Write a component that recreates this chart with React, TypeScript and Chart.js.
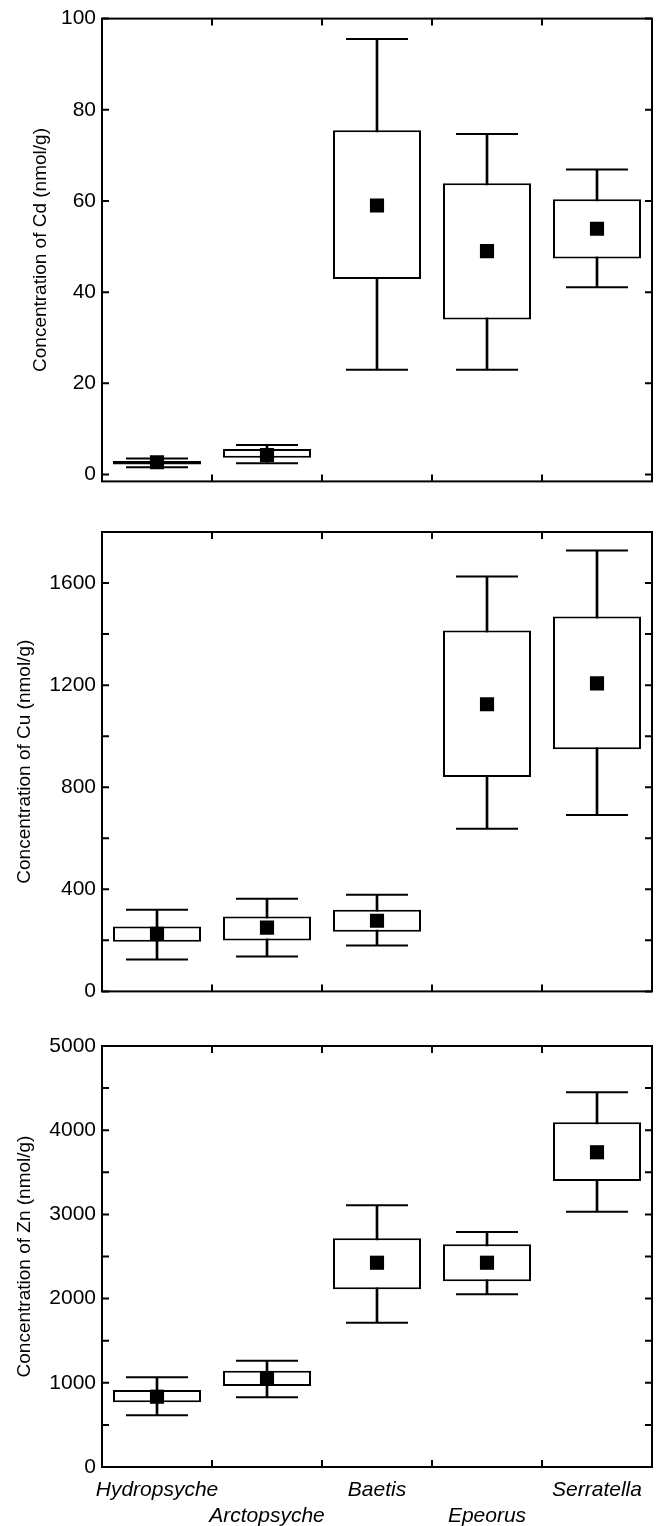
import React, { useEffect, useRef } from 'react';
import { Chart, registerables } from 'chart.js';

Chart.register(...registerables);

// ---------- data ----------
const categories = ['Hydropsyche', 'Arctopsyche', 'Baetis', 'Epeorus', 'Serratella'];

// Cd (nmol/g)
const cdMin = [1.6, 2.5, 23, 23, 41.1];
const cdQ1 = [2.2, 3.7, 42.9, 34, 47.4];
const cdQ3 = [3.0, 5.6, 75.5, 63.9, 60.4];
const cdMax = [3.5, 6.5, 95.5, 74.7, 66.9];
const cdMean = [2.7, 4.3, 59, 49, 53.9];
const cdTicks = [0, 20, 40, 60, 80, 100];
const cdMinor: number[] = [];

// Cu (nmol/g)
const cuMin = [125, 137, 180, 637, 691];
const cuQ1 = [195, 199, 234, 840, 949];
const cuQ3 = [254, 293, 320, 1414, 1469];
const cuMax = [320, 363, 379, 1626, 1728];
const cuMean = [226, 250, 277, 1125, 1207];
const cuTicks = [0, 400, 800, 1200, 1600];
const cuMinor = [200, 600, 1000, 1400];

// Zn (nmol/g)
const znMin = [614, 828, 1714, 2051, 3032];
const znQ1 = [768, 962, 2110, 2205, 3397];
const znQ3 = [914, 1144, 2716, 2645, 4094];
const znMax = [1065, 1262, 3108, 2791, 4450];
const znMean = [835, 1053, 2426, 2426, 3738];
const znTicks = [0, 1000, 2000, 3000, 4000, 5000];
const znMinor = [500, 1500, 2500, 3500, 4500];

const FONT = 'Arial, "Liberation Sans", Helvetica, sans-serif';

type PanelProps = {
  top: number;
  height: number;
  padTop: number;
  padBottom: number;
  xHeight: number;
  title: string;
  titlePad: number;
  yMin: number;
  yMax: number;
  ticks: number[];
  minor: number[];
  min: number[];
  q1: number[];
  q3: number[];
  max: number[];
  mean: number[];
  showX: boolean;
};

const framePlugin = (major: number[], minor: number[]) => ({
  id: 'frameTicks',
  afterDatasetsDraw(chart: any) {
    const { ctx, chartArea } = chart;
    const { left, right, top, bottom } = chartArea;
    const xs = chart.scales.x;
    const ys = chart.scales.y;
    ctx.save();
    ctx.strokeStyle = '#000';
    ctx.lineWidth = 2;
    ctx.strokeRect(left, top, right - left, bottom - top);
    ctx.beginPath();
    const L = 7;
    for (let i = 0; i < categories.length - 1; i++) {
      const px = (xs.getPixelForValue(i) + xs.getPixelForValue(i + 1)) / 2;
      ctx.moveTo(px, bottom);
      ctx.lineTo(px, bottom - L);
      ctx.moveTo(px, top);
      ctx.lineTo(px, top + L);
    }
    [...major, ...minor].forEach((v) => {
      const py = ys.getPixelForValue(v);
      ctx.moveTo(left, py);
      ctx.lineTo(left + L, py);
      ctx.moveTo(right, py);
      ctx.lineTo(right - L, py);
    });
    ctx.stroke();
    ctx.restore();
  },
});

function Panel(p: PanelProps) {
  const ref = useRef<HTMLCanvasElement>(null);
  useEffect(() => {
    if (!ref.current) return;
    const chart = new Chart(ref.current, {
      type: 'bar',
      data: {
        labels: categories,
        datasets: [
          {
            type: 'line',
            label: 'mean',
            data: p.mean,
            showLine: false,
            pointStyle: 'rect',
            pointRadius: 10,
            pointBackgroundColor: '#000',
            pointBorderColor: '#000',
            pointBorderWidth: 0,
            order: 0,
          } as any,
          {
            type: 'bar',
            label: 'box',
            data: p.q1.map((v, i) => [v, p.q3[i]]),
            backgroundColor: '#fff',
            borderColor: '#000',
            borderWidth: 2,
            borderSkipped: false,
            barPercentage: 0.8,
            categoryPercentage: 1,
            grouped: false,
            order: 1,
          } as any,
          {
            type: 'line',
            label: 'max cap',
            data: p.max,
            showLine: false,
            pointStyle: 'line',
            pointRadius: 31,
            pointBorderColor: '#000',
            pointBorderWidth: 2,
            order: 2,
          } as any,
          {
            type: 'line',
            label: 'min cap',
            data: p.min,
            showLine: false,
            pointStyle: 'line',
            pointRadius: 31,
            pointBorderColor: '#000',
            pointBorderWidth: 2,
            order: 2,
          } as any,
          {
            type: 'bar',
            label: 'whisker',
            data: p.min.map((v, i) => [v, p.max[i]]),
            backgroundColor: '#000',
            borderWidth: 0,
            barThickness: 2,
            grouped: false,
            order: 3,
          } as any,
        ],
      },
      options: {
        responsive: false,
        animation: false,
        layout: {
          autoPadding: false,
          padding: { left: 0, right: 6, top: p.padTop, bottom: p.padBottom },
        },
        plugins: { legend: { display: false }, tooltip: { enabled: false } },
        scales: {
          x: {
            offset: true,
            grid: { display: false },
            border: { display: false },
            ticks: {
              display: p.showX,
              autoSkip: false,
              maxRotation: 0,
              padding: 2,
              color: '#000',
              font: { family: FONT, size: 21, style: 'italic', lineHeight: 1.24 },
              callback: (val: any, idx: number) =>
                idx % 2 === 1 ? ['', categories[idx]] : categories[idx],
            },
            afterFit: (s: any) => {
              s.height = p.xHeight;
            },
          },
          y: {
            min: p.yMin,
            max: p.yMax,
            grid: { display: false, drawTicks: false },
            border: { display: false },
            ticks: {
              padding: 6,
              color: '#000',
              font: { family: FONT, size: 21 },
              callback: (v: any) => String(v),
            },
            afterBuildTicks: (s: any) => {
              s.ticks = p.ticks.map((v) => ({ value: v }));
            },
            afterFit: (s: any) => {
              s.width = 102;
            },
            title: {
              display: true,
              text: p.title,
              color: '#000',
              font: { family: FONT, size: 19 },
              padding: { top: p.titlePad, bottom: 0 },
            },
          },
        },
      } as any,
      plugins: [framePlugin(p.ticks, p.minor)],
    });
    return () => chart.destroy();
  }, []);
  return (
    <canvas
      ref={ref}
      width={658}
      height={p.height}
      style={{ position: 'absolute', left: 0, top: p.top, width: 658, height: p.height }}
    />
  );
}

export default function App() {
  return (
    <div style={{ position: 'absolute', left: 0, top: 0, width: 658, height: 1526, background: '#fff' }}>
      <Panel
        top={0}
        height={500}
        padTop={17}
        padBottom={14}
        xHeight={0}
        title="Concentration of Cd (nmol/g)"
        titlePad={29}
        yMin={-1.5}
        yMax={100}
        ticks={cdTicks}
        minor={cdMinor}
        min={cdMin}
        q1={cdQ1}
        q3={cdQ3}
        max={cdMax}
        mean={cdMean}
        showX={false}
      />
      <Panel
        top={500}
        height={510}
        padTop={32}
        padBottom={17}
        xHeight={0}
        title="Concentration of Cu (nmol/g)"
        titlePad={13}
        yMin={0}
        yMax={1800}
        ticks={cuTicks}
        minor={cuMinor}
        min={cuMin}
        q1={cuQ1}
        q3={cuQ3}
        max={cuMax}
        mean={cuMean}
        showX={false}
      />
      <Panel
        top={1010}
        height={516}
        padTop={36}
        padBottom={0}
        xHeight={59}
        title="Concentration of Zn (nmol/g)"
        titlePad={13}
        yMin={0}
        yMax={5000}
        ticks={znTicks}
        minor={znMinor}
        min={znMin}
        q1={znQ1}
        q3={znQ3}
        max={znMax}
        mean={znMean}
        showX={true}
      />
    </div>
  );
}
